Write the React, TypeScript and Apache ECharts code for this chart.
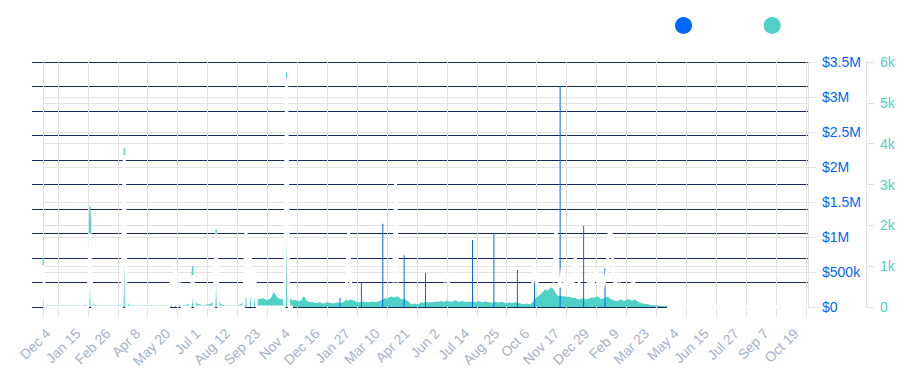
import React, { useEffect, useRef } from 'react';
import * as echarts from 'echarts';

// ---- categories: one every 3 days from Nov 13 2019 ----
const START_UTC = Date.UTC(2019, 10, 13);
const STEP_DAYS = 3;
const COUNT = 359;
const MONTHS = ['Jan', 'Feb', 'Mar', 'Apr', 'May', 'Jun', 'Jul', 'Aug', 'Sep', 'Oct', 'Nov', 'Dec'];
const categories: string[] = Array.from({ length: COUNT }, (_, i) => {
  const d = new Date(START_UTC + i * STEP_DAYS * 86400000);
  return `${MONTHS[d.getUTCMonth()]} ${d.getUTCDate()}`;
});

// ---- tick labels ----
const volumeTicks = ['$0', '$500k', '$1M', '$1.5M', '$2M', '$2.5M', '$3M', '$3.5M'];
const tradeTicks = ['0', '1k', '2k', '3k', '4k', '5k', '6k'];

// ---- trades (teal area), one value per category ----
const tradesEarly = [
  1200, 80,
  30, 25, 20, 30, 25, 20, 20, 25, 30, 20, 25, 20, 20, 30, 25, 20, 25, 30, 40, 60,
  2470, 120,
  40, 30, 25, 20, 25, 30, 20, 25, 20, 30, 25, 20, 40, 80,
  3900, 150,
  40, 30, 25, 20, 20, 25, 20, 25, 30, 20, 20, 25, 20, 20, 25, 30, 25, 20, 25, 30, 40, 30, 25, 30, 40, 35, 30, 40, 50, 80,
  1000, 150,
  60, 50, 40, 30, 40, 50, 60, 80, 120,
  1910, 170,
  60, 40, 30, 25, 20, 20, 25, 20, 30, 40, 60,
];
const tradesMid = [
  150, 220, 180, 200, 270, 230, 200, 170, 190, 200, 170, 160, 180, 220, 340, 260, 200, 180, 170, 200,
  5750, 250,
  170, 150, 160, 140, 120, 150, 245, 150, 120, 100, 110, 90, 80, 100, 90, 70, 80, 100, 90, 80, 70, 90, 100, 80, 90,
  120, 160, 140, 170, 150, 130, 110, 100, 110, 120, 100, 110, 100, 120, 110, 100, 120, 140,
  170, 200, 190, 220, 245, 210, 230, 245, 190, 170, 180, 150, 120,
  60, 50, 70, 50, 60, 100, 90, 110, 100, 90, 110, 100, 120, 110,
  130, 120, 110, 140, 120, 110, 130, 150, 120, 110, 130, 120, 110, 120,
  110, 120, 100, 110, 130, 110, 100, 120, 110, 100, 90, 100, 110, 90, 100, 110, 90, 80, 100, 90, 80, 100, 90,
  80, 60, 50, 70, 60, 50, 90, 150,
];
const tradesLate = [
  220, 260, 300, 350, 415, 380, 420, 465, 400, 300, 250, 260, 240,
  250, 230, 240, 220, 200, 210, 180, 170, 190, 200, 170, 180, 200, 220, 210, 240, 230,
  170, 200, 190, 245, 200, 170, 150, 140, 120, 170, 150, 120, 160, 180, 150,
  140, 170, 130, 100, 80, 70, 60, 50, 40, 35, 30, 25, 20,
  15, 12, 10, 12, 8, 10, 8, 6, 8, 10,
  6, 8, 5, 6, 8, 5, 6, 5, 8, 6,
  5, 6, 8, 5, 6, 5, 5, 6, 8, 5,
  6, 5, 8, 6, 5, 6, 5, 8, 10, 6,
  5, 6, 5, 8, 6, 5, 6, 8, 5, 6,
  5, 6, 8, 5, 6, 5, 6, 5, 8, 6,
  5, 6, 5, 6, 8, 5, 6, 5, 6, 5,
];
const trades = [...tradesEarly, ...tradesMid, ...tradesLate];

// ---- volume (blue bars): [category index, USD] ----
const volumeBars: [number, number][] = [
  [139, 130000], [149, 343000], [159, 1190000], [169, 740000], [179, 490000],
  [201, 957000], [211, 1060000], [222, 530000], [230, 570000], [242, 3157000],
  [253, 1157000], [263, 557000],
];

// ---- white overlay series (third, hidden-scale axis 0-100) ----
const overlayEarly = [
  17, 0,
  0, 0, 0, 0, 0, 0, 0, 0, 0, 0, 0, 0, 0, 0, 0, 0, 0, 0, 0, 0,
  30,
  0, 0, 0, 0, 0, 0, 0, 0, 0, 0, 0, 0, 0, 0, 0,
  62,
  0, 0, 0, 0, 0, 0, 0, 0, 0, 0, 0, 0, 0, 0, 0, 0, 0, 0, 0, 0, 0,
  12, 0, 17, 0, 10,
  0, 0, 0, 0, 0,
  13,
  0, 0, 0, 0, 0, 0, 0, 0, 0, 0,
  30,
  0, 0, 0, 0, 0, 0, 0, 0, 0, 0, 0, 0,
  0, 33, 0, 23, 0, 15,
  0, 0, 0, 0, 0, 0, 0, 0, 0, 0, 0, 0, 0,
  0, 93.5, 0, 0, 0,
];
const overlaySegments: [number, number[]][] = [
  [142, [8, 31, 8]],
  [164, [10, 51, 10]],
  [188, [10, 14, 9]],
  [229, [8, 18, 9, 14]],
  [239, [10, 33, 12, 8, 16, 10, 7, 14, 9]],
  [248, [8, 20, 18, 9]],
  [255, [9, 14, 8, 12, 16, 9, 13, 8, 11, 15, 32, 30, 12, 9, 14, 10]],
  [275, [10, 12, 8]],
  [292, [
    0, 0, 0, 0, 0, 0, 0, 0, 0, 0, 0, 0, 0, 0, 0, 0, 0, 0, 0, 0, 0, 0,
    0, 0, 0, 0, 0, 0, 0, 0, 0, 0, 0, 0, 0, 0, 0, 0, 0, 0, 0, 0, 0, 0,
    0, 0, 0, 0, 0, 0, 0, 0, 0, 0, 0, 0, 0, 0, 0, 0, 0, 0, 0, 0, 0, 0, 0,
  ]],
];

const TEAL = '#4fd1c5';
const BLUE = '#0066ff';
const NAVY = '#1a2a56';
const GRID_GRAY = '#e2e2e2';
const LABEL_GRAY = '#a7b2c8';

const isLabelIndex = (i: number) => i >= 7 && (i - 7) % 14 === 0;
const isTickIndex = (i: number) => i === 0 || isLabelIndex(i);

export default function App() {
  const ref = useRef<HTMLDivElement>(null);

  useEffect(() => {
    if (!ref.current) return;
    const chart = echarts.init(ref.current, null, { renderer: 'svg' });

    const volume: number[] = categories.map(() => 0);
    volumeBars.forEach(([i, v]) => { volume[i] = v; });

    const overlay: (number | null)[] = categories.map(() => null);
    overlayEarly.forEach((v, i) => { overlay[i] = v; });
    overlaySegments.forEach(([start, vals]) => {
      vals.forEach((v, k) => { if (start + k < COUNT) overlay[start + k] = v; });
    });

    chart.setOption({
      animation: false,
      textStyle: { fontFamily: '"Liberation Sans", Arial, sans-serif' },
      legend: {
        data: ['Volume', 'Trades'],
        left: 670,
        top: 12,
        icon: 'circle',
        itemWidth: 17,
        itemHeight: 17,
        itemGap: 20,
        textStyle: { color: '#ffffff', fontSize: 14 },
      },
      grid: { left: 43, right: 92, top: 62, bottom: 68, containLabel: false, outerBoundsMode: 'none' },
      xAxis: {
        type: 'category',
        data: categories,
        boundaryGap: false,
        axisLine: { show: false },
        axisTick: { show: true, interval: isTickIndex, length: 10, lineStyle: { color: GRID_GRAY } },
        axisLabel: {
          interval: isLabelIndex,
          rotate: 45,
          margin: 14,
          padding: [0, 14, 0, 0],
          color: LABEL_GRAY,
          fontSize: 14,
        },
        splitLine: { show: true, interval: isTickIndex, lineStyle: { color: GRID_GRAY } },
      },
      yAxis: [
        {
          type: 'value',
          position: 'right',
          min: 0,
          max: 3500000,
          interval: 500000,
          axisLine: { show: true, lineStyle: { color: GRID_GRAY } },
          axisTick: { show: true, length: 8, lineStyle: { color: GRID_GRAY } },
          axisLabel: {
            color: BLUE,
            fontSize: 14,
            margin: 14,
            formatter: (_v: number, idx: number) => volumeTicks[idx],
          },
          splitLine: { show: true, lineStyle: { color: GRID_GRAY } },
        },
        {
          type: 'value',
          position: 'right',
          offset: 58,
          min: 0,
          max: 6000,
          interval: 1000,
          axisLine: { show: true, lineStyle: { color: GRID_GRAY } },
          axisTick: { show: true, length: 8, lineStyle: { color: GRID_GRAY } },
          axisLabel: {
            color: TEAL,
            fontSize: 14,
            margin: 14,
            formatter: (_v: number, idx: number) => tradeTicks[idx],
          },
          splitLine: { show: true, lineStyle: { color: GRID_GRAY } },
        },
        {
          type: 'value',
          position: 'left',
          min: 0,
          max: 100,
          interval: 10,
          axisLine: { show: false },
          axisTick: { show: true, length: 11, lineStyle: { color: NAVY } },
          axisLabel: { show: false },
          splitLine: { show: true, lineStyle: { color: NAVY, width: 1.2 } },
        },
      ],
      series: [
        {
          name: 'Trades',
          type: 'line',
          yAxisIndex: 1,
          data: trades,
          showSymbol: false,
          symbol: 'none',
          color: TEAL,
          lineStyle: { color: TEAL, width: 1.2 },
          areaStyle: { color: TEAL, opacity: 1 },
          z: 2,
        },
        {
          name: 'Volume',
          type: 'bar',
          yAxisIndex: 0,
          data: volume,
          barWidth: 1,
          color: BLUE,
          itemStyle: { color: BLUE },
          z: 3,
        },
        {
          name: 'Overlay',
          type: 'line',
          yAxisIndex: 2,
          data: overlay,
          showSymbol: false,
          symbol: 'none',
          connectNulls: false,
          color: '#ffffff',
          lineStyle: { color: '#ffffff', width: 3 },
          silent: true,
          z: 4,
        },
      ],
    });

    return () => chart.dispose();
  }, []);

  return (
    <div
      ref={ref}
      style={{ position: 'absolute', left: 0, top: 0, width: 900, height: 375, background: '#ffffff' }}
    />
  );
}
